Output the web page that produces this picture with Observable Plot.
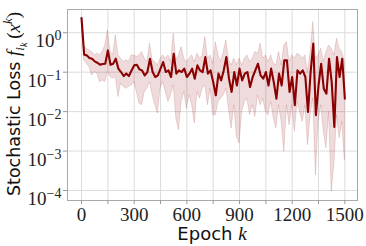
<!DOCTYPE html>
<html><head><meta charset="utf-8">
<script src="https://cdn.jsdelivr.net/npm/d3@7"></script>
<script src="https://cdn.jsdelivr.net/npm/@observablehq/plot@0.6"></script>
<style>body{margin:0;background:#fff}#chart{width:366px;height:246px}</style>
</head><body><div id="chart"></div>
<script>
const epochStep = 15;
const meanLoss = [
 2.35, 0.277, 0.267, 0.229, 0.22, 0.188, 0.174, 0.155, 0.161, 0.164,
 0.357, 0.155, 0.164, 0.22, 0.123, 0.101, 0.080, 0.092, 0.080, 0.111,
 0.149, 0.155, 0.118, 0.111, 0.083, 0.101, 0.22, 0.101, 0.0755, 0.083,
 0.123, 0.181, 0.101, 0.111, 0.0755, 0.294, 0.092, 0.111, 0.101, 0.123,
 0.0755, 0.092, 0.123, 0.0685, 0.149, 0.111, 0.101, 0.242, 0.092, 0.111,
 0.056, 0.026, 0.092, 0.062, 0.111, 0.242, 0.0685, 0.0315, 0.101, 0.046,
 0.123, 0.062, 0.092, 0.101, 0.042, 0.0755, 0.111, 0.164, 0.083, 0.0685,
 0.101, 0.046, 0.123, 0.056, 0.0213, 0.092, 0.046, 0.20, 0.20, 0.0315,
 0.0755, 0.0145, 0.111, 0.092, 0.111, 0.0755, 0.0098, 0.101, 0.53, 0.0081,
 0.046, 0.164, 0.038, 0.0286, 0.22, 0.056, 0.0041, 0.242, 0.0755, 0.22,
 0.0213];
const upperLoss = [
 2.35, 0.434, 0.394, 0.357, 0.324, 0.267, 0.294, 0.267, 0.324, 0.478,
 1.15, 0.324, 0.267, 0.86, 0.267, 0.22, 0.181, 0.20, 0.181, 0.267,
 0.267, 0.242, 0.267, 0.324, 0.22, 0.181, 0.53, 0.20, 0.181, 0.149,
 0.22, 0.267, 0.22, 0.267, 0.181, 0.94, 0.20, 0.267, 0.434, 0.22,
 0.181, 0.22, 0.267, 0.181, 0.294, 0.22, 0.267, 0.78, 0.22, 0.267,
 0.164, 0.58, 0.267, 0.181, 0.324, 0.64, 0.20, 0.149, 0.22, 0.149,
 0.22, 0.149, 0.22, 0.267, 0.181, 0.22, 0.324, 0.294, 0.53, 0.22,
 0.267, 0.181, 0.267, 0.164, 0.149, 0.324, 0.149, 0.478, 0.58, 0.181,
 0.267, 0.22, 0.294, 0.267, 0.22, 0.267, 0.101, 0.324, 1.86, 0.22,
 0.267, 0.394, 0.181, 0.324, 0.478, 0.394, 0.267, 0.705, 0.394, 0.324,
 0.181];
const lowerLoss = [
 2.35, 0.20, 0.164, 0.135, 0.083, 0.101, 0.092, 0.056, 0.062, 0.056,
 0.101, 0.0755, 0.0685, 0.0755, 0.0235, 0.051, 0.042, 0.038, 0.042, 0.046,
 0.056, 0.0315, 0.016, 0.0145, 0.0315, 0.038, 0.056, 0.026, 0.0145, 0.0089,
 0.038, 0.056, 0.0315, 0.0176, 0.026, 0.046, 0.0067, 0.0034, 0.0176, 0.0315,
 0.0119, 0.026, 0.0145, 0.0050, 0.0315, 0.0213, 0.038, 0.046, 0.0145, 0.038,
 0.0081, 0.0081, 0.0176, 0.0213, 0.026, 0.038, 0.0119, 0.0037, 0.0145, 0.0023,
 0.00155, 0.0098, 0.0176, 0.0213, 0.0081, 0.0145, 0.0073, 0.026, 0.0145, 0.0213,
 0.0098, 0.0081, 0.0176, 0.0067, 0.0037, 0.0145, 0.0055, 0.00095, 0.0145, 0.0045,
 0.0145, 0.0031, 0.0176, 0.0098, 0.0055, 0.0145, 0.0014, 0.0081, 0.0213, 0.00024,
 0.0055, 0.0145, 0.0031, 0.00116, 0.0098, 0.000093, 0.00044, 0.0081, 0.0021, 0.0055,
 0.00059];
const xTicks = [0, 150, 300, 450, 600, 750, 900, 1050, 1200, 1350, 1500];
const xTickLabels = ["0", "", "300", "", "600", "", "900", "", "1200", "", "1500"];
const yTicks = [1e-4, 1e-3, 1e-2, 1e-1, 1];
const yTickExponents = ["\u22124", "\u22123", "\u22122", "\u22121", "0"];

const data = meanLoss.map((m, i) => ({epoch: i * epochStep, mean: m, lo: lowerLoss[i], hi: upperLoss[i]}));

const red = "#8b0000";
const plot = Plot.plot({
  width: 366, height: 246,
  marginLeft: 67, marginRight: 9, marginTop: 9, marginBottom: 46,
  style: {fontFamily: "'Liberation Serif', serif", fontSize: "19px", color: "#222", background: "#fff", overflow: "visible"},
  x: {domain: [-80, 1572]},
  y: {type: "log", domain: [5.58e-5, 3.89]},
  marks: [
    Plot.gridX(xTicks, {stroke: "#dcdcdc", strokeOpacity: 1, strokeWidth: 1}),
    Plot.gridY(yTicks, {stroke: "#dcdcdc", strokeOpacity: 1, strokeWidth: 1}),
    Plot.areaY(data, {x: "epoch", y1: "lo", y2: "hi", fill: red, fillOpacity: 0.14, stroke: red, strokeOpacity: 0.2, strokeWidth: 0.7}),
    Plot.lineY(data, {x: "epoch", y: "mean", stroke: red, strokeWidth: 2.1}),
    Plot.frame({stroke: "#aaa"}),
    Plot.axisX(xTicks, {tickSize: 4, tickPadding: 3, stroke: "#999", fill: "#222", label: null,
      tickFormat: d => xTickLabels[xTicks.indexOf(d)]}),
    Plot.axisY(yTicks, {tickSize: 4, tickPadding: 2, stroke: "#999", fill: "#222", label: null,
      tickFormat: d => "10|" + yTickExponents[yTicks.indexOf(d)]})
  ]
});

const svg = d3.select(plot);
svg.selectAll('g[aria-label="y-axis tick label"] text').each(function () {
  const t = d3.select(this);
  const [b, e] = t.text().split("|");
  t.text(null);
  t.attr("dy", "0.45em");
  t.append("tspan").text(b);
  t.append("tspan").attr("dy", "-0.5em").attr("font-size", "14px").text(e);
});

// y label
const yl = svg.append("text")
  .attr("transform", "translate(20,104) rotate(-90)")
  .attr("text-anchor", "middle")
  .attr("fill", "#111");
yl.append("tspan").attr("font-family", "'DejaVu Sans', sans-serif").attr("font-size", "17.5px").text("Stochastic Loss ");
const serif = "'Liberation Serif', serif";
yl.append("tspan").attr("font-family", serif).attr("font-style", "italic").attr("font-size", "19px").text("f");
yl.append("tspan").attr("font-family", serif).attr("font-style", "italic").attr("font-size", "13px").attr("dy", 4).text("i");
yl.append("tspan").attr("font-family", serif).attr("font-style", "italic").attr("font-size", "10px").attr("dy", 3).text("k");
yl.append("tspan").attr("font-family", serif).attr("font-size", "19px").attr("dy", -7).text("\u2009(");
yl.append("tspan").attr("font-family", serif).attr("font-style", "italic").attr("font-size", "19px").text("x");
yl.append("tspan").attr("font-family", serif).attr("font-style", "italic").attr("font-size", "13px").attr("dy", -8).text("k");
yl.append("tspan").attr("font-family", serif).attr("font-size", "19px").attr("dy", 8).text(")");

// x label
const xl = svg.append("text")
  .attr("x", 212).attr("y", 240)
  .attr("text-anchor", "middle")
  .attr("fill", "#111");
xl.append("tspan").attr("font-family", "'DejaVu Sans', sans-serif").attr("font-size", "18px").text("Epoch ");
xl.append("tspan").attr("font-family", serif).attr("font-style", "italic").attr("font-size", "19px").text("k");

document.getElementById("chart").appendChild(plot);
</script>
</body></html>
